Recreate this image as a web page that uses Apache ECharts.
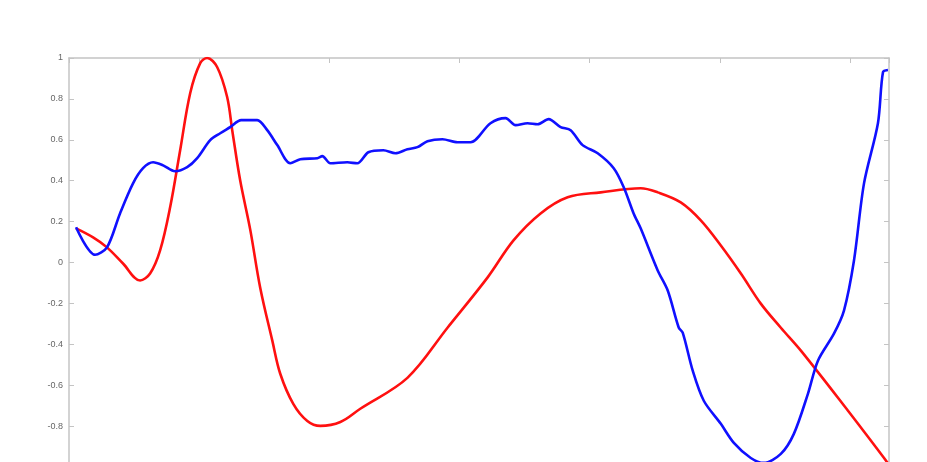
<!DOCTYPE html>
<html>
<head>
<meta charset="utf-8">
<script src="https://cdn.jsdelivr.net/npm/echarts@6/dist/echarts.min.js"></script>
<style>html,body{margin:0;padding:0;background:#fff;}#c{width:927px;height:462px;}</style>
</head>
<body>
<div id="c"></div>
<script>
var blueX = [0.054,0.2,0.292,0.392,0.492,0.569,0.646,0.723,0.815,0.908,0.985,1.085,1.162,1.238,1.323,1.446,1.523,1.6,1.7,1.777,1.908,1.946,2.008,2.138,2.215,2.3,2.415,2.508,2.6,2.677,2.754,2.869,2.985,3.085,3.238,3.354,3.431,3.523,3.6,3.685,3.777,3.854,3.946,4.062,4.185,4.262,4.338,4.392,4.523,4.6,4.685,4.715,4.792,4.877,5.008,5.108,5.238,5.338,5.469,5.569,5.677,5.754,5.877,5.954,6.031,6.108,6.215,6.254,6.292];
var blueY = [0.172,0.038,0.074,0.24,0.387,0.461,0.49,0.475,0.446,0.466,0.51,0.598,0.632,0.662,0.696,0.696,0.647,0.574,0.485,0.505,0.51,0.52,0.485,0.49,0.485,0.539,0.549,0.534,0.554,0.564,0.593,0.603,0.588,0.588,0.681,0.706,0.672,0.681,0.676,0.701,0.662,0.647,0.574,0.534,0.461,0.368,0.24,0.167,-0.039,-0.137,-0.319,-0.343,-0.529,-0.676,-0.789,-0.882,-0.956,-0.98,-0.936,-0.838,-0.642,-0.48,-0.348,-0.235,0.01,0.387,0.681,0.931,0.941];
var redX = [0.054,0.185,0.292,0.415,0.546,0.623,0.7,0.777,0.854,0.931,1.008,1.062,1.138,1.215,1.254,1.315,1.392,1.469,1.562,1.623,1.723,1.831,1.931,2.085,2.238,2.6,2.908,3.215,3.415,3.623,3.831,4.085,4.392,4.523,4.7,4.854,5.008,5.162,5.315,5.469,5.623,5.985,6.262,6.3];
var redY = [0.167,0.123,0.074,-0.005,-0.088,-0.054,0.059,0.27,0.549,0.828,0.975,1.0,0.956,0.809,0.647,0.402,0.162,-0.123,-0.382,-0.544,-0.691,-0.775,-0.799,-0.78,-0.715,-0.564,-0.319,-0.074,0.108,0.24,0.319,0.343,0.363,0.343,0.294,0.206,0.083,-0.054,-0.201,-0.319,-0.431,-0.725,-0.956,-0.99];
var yTicks = [-1,-0.8,-0.6,-0.4,-0.2,0,0.2,0.4,0.6,0.8,1];

function pairs(xs, ys){ return xs.map(function(x,i){ return [x, ys[i]]; }); }

var axisLine = {show:true, onZero:false, lineStyle:{color:'#c4c4c4', width:1.5}};
var axisTick = {show:true, inside:true, length:5, lineStyle:{color:'#c4c4c4', width:1}};
var chart = echarts.init(document.getElementById('c'), null, {renderer:'canvas'});
chart.setOption({
  animation:false,
  backgroundColor:'#fff',
  grid:{left:69, top:58, width:820, height:409, containLabel:false, outerBoundsMode:'none'},
  xAxis:[
    {type:'value', position:'bottom', min:0, max:6.3, interval:1, axisLine:axisLine, axisTick:axisTick, axisLabel:{show:false}, splitLine:{show:false}},
    {type:'value', position:'top', min:0, max:6.3, interval:1, axisLine:axisLine, axisTick:axisTick, axisLabel:{show:false}, splitLine:{show:false}}
  ],
  yAxis:[
    {type:'value', position:'left', min:-1, max:1, interval:0.2, axisLine:axisLine, axisTick:axisTick,
     axisLabel:{show:true, margin:6, fontSize:9, color:'#666', fontFamily:'Liberation Sans, Arial, sans-serif',
       formatter:function(v){ var r=Math.round(v*10)/10; return yTicks.indexOf(r) >= 0 ? String(r) : ''; }},
     splitLine:{show:false}},
    {type:'value', position:'right', min:-1, max:1, interval:0.2, axisLine:axisLine, axisTick:axisTick, axisLabel:{show:false}, splitLine:{show:false}}
  ],
  series:[
    {type:'line', name:'red', data:pairs(redX, redY), smooth:0.35, showSymbol:false, symbol:'none',
     lineStyle:{color:'#ff1010', width:2.6}, clip:true},
    {type:'line', name:'blue', data:pairs(blueX, blueY), smooth:0.3, showSymbol:false, symbol:'none',
     lineStyle:{color:'#1010ff', width:2.6}, clip:true}
  ]
});
</script>
</body>
</html>
